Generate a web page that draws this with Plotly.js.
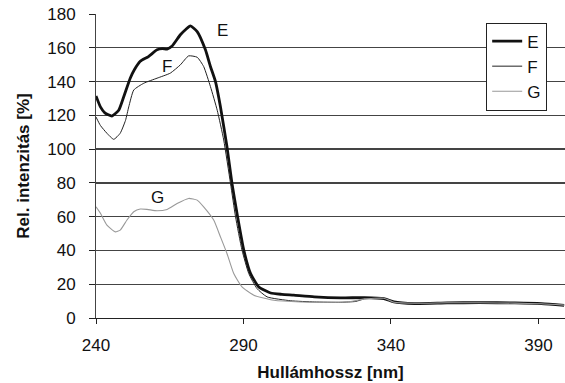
<!DOCTYPE html>
<html>
<head>
<meta charset="utf-8">
<script src="https://cdn.plot.ly/plotly-3.0.1.min.js"></script>
<style>html,body{margin:0;padding:0;background:#fff;}#chart{width:565px;height:383px;}</style>
</head>
<body>
<div id="chart"></div>
<script>
const eX = [240, 241.5, 243, 245.4, 247.7, 249.4, 251.6, 253, 255, 257.8, 260.7, 262.5, 264.1, 265.8, 268.6, 270.5, 272, 274.3, 277.1, 278.8, 280.5, 282.2, 284.4, 286.1, 288, 290.1, 292.4, 295.2, 299.2, 303, 307, 314, 323, 331, 337.6, 341, 348, 359, 370, 382, 391, 398.7];
const eY = [131.5, 125, 121.5, 119.6, 123, 131, 142, 147, 152, 154.8, 158.8, 159.5, 159.2, 161, 167.7, 171, 173, 169.6, 158.8, 148.9, 140, 125, 101.4, 79.7, 60, 40.2, 26.3, 18.4, 14.8, 14, 13.5, 12.5, 11.9, 12.1, 11.5, 9.5, 8.5, 8.9, 9.1, 8.9, 8.5, 7.5];

const fX = [240, 241.5, 243.7, 246, 248.2, 250, 251.1, 252.8, 256.2, 260.7, 265.2, 268.6, 271.4, 274.3, 276.5, 278.8, 281.1, 283.3, 285.6, 287.3, 289.5, 291.8, 294.6, 298, 306, 314, 323, 328, 331, 337.6, 341, 348, 359, 370, 382, 391, 398.7];
const fY = [119, 114, 109.4, 105.8, 109.4, 117, 125, 135, 139, 142, 145, 149.9, 155.2, 154.4, 148.9, 137, 123, 105.4, 79.7, 60, 40.2, 26.3, 17.4, 12.5, 10.2, 9.5, 9.3, 9.8, 11.3, 11.7, 9.3, 8.6, 9, 9, 8.8, 8.4, 7.6];

const gX = [240, 241.5, 243.7, 246.5, 248.2, 250.5, 252.8, 255, 257.3, 260.7, 264.1, 267.5, 271.4, 274.3, 276.5, 279.9, 282.2, 284.4, 286.7, 289.5, 293.5, 300.3, 309.4, 318, 326, 331, 337.6, 341, 348, 359, 370, 382, 391, 398.7];
const gY = [65.8, 62, 55, 51, 52, 58, 62.9, 64.5, 64.3, 63.5, 64.3, 67.8, 70.8, 69.8, 65.8, 58, 48, 38.2, 26.3, 18.4, 13.5, 10.5, 9.5, 9.3, 9.6, 11.3, 11.7, 9.3, 8.7, 9, 9, 8.8, 8.4, 7.6];

const seriesNames = ['E', 'F', 'G'];
const xTicks = [240, 290, 340, 390];
const yTicks = [0, 20, 40, 60, 80, 100, 120, 140, 160, 180];
const labelPos = [{t: 'E', x: 282.9, y: 170}, {t: 'F', x: 264.2, y: 148.7}, {t: 'G', x: 260.8, y: 71.5}];

const font = 'Liberation Sans, Arial, sans-serif';

const traces = [
  {x: eX, y: eY, name: seriesNames[0], mode: 'lines', line: {color: '#111', width: 2.8, shape: 'spline', smoothing: 0.5}},
  {x: fX, y: fY, name: seriesNames[1], mode: 'lines', line: {color: '#222', width: 1, shape: 'spline', smoothing: 0.5}},
  {x: gX, y: gY, name: seriesNames[2], mode: 'lines', line: {color: '#999', width: 1.1, shape: 'spline', smoothing: 0.5}}
];

const layout = {
  width: 565, height: 383,
  margin: {l: 96, r: 0, t: 14, b: 65},
  paper_bgcolor: '#fff', plot_bgcolor: '#fff',
  font: {family: font, color: '#111', size: 14},
  showlegend: true,
  legend: {
    x: 0.962, y: 0.972, xanchor: 'right', yanchor: 'top',
    bordercolor: '#222', borderwidth: 1, bgcolor: '#fff',
    font: {family: font, size: 17, color: '#111'},
    tracegroupgap: 0
  },
  xaxis: {
    range: [240, 399], tickvals: xTicks, ticktext: xTicks.map(String),
    showgrid: false, zeroline: false,
    showline: true, linecolor: '#222', linewidth: 1,
    ticks: 'outside', ticklen: 5, tickcolor: '#222', ticklabelstandoff: 7,
    tickfont: {family: font, size: 17, color: '#111'},
    title: {text: '<b>Hullámhossz [nm]</b>', font: {family: font, size: 17, color: '#111'}, standoff: 11}
  },
  yaxis: {
    range: [0, 180], tickvals: yTicks, ticktext: yTicks.map(String),
    showgrid: true, gridcolor: '#444', gridwidth: 1.3, zeroline: false,
    showline: true, linecolor: '#444', linewidth: 1,
    ticks: 'outside', ticklen: 6, tickcolor: '#222', ticklabelstandoff: 10,
    tickfont: {family: font, size: 17, color: '#111'},
    title: {text: '<b>Rel. intenzitás [%]</b>', font: {family: font, size: 17, color: '#111'}, standoff: 13}
  },
  annotations: labelPos.map(p => ({x: p.x, y: p.y, text: p.t, showarrow: false, font: {family: font, size: 17, color: '#111'}}))
};

Plotly.newPlot('chart', traces, layout, {displayModeBar: false, staticPlot: true});
</script>
</body>
</html>
